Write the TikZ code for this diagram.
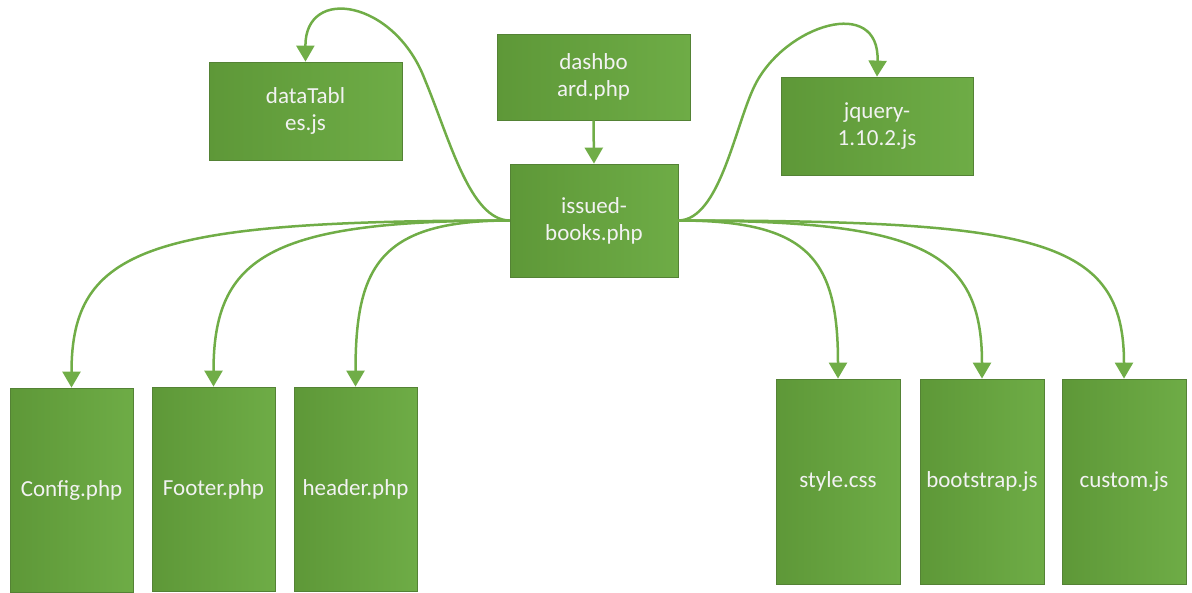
\documentclass[tikz,border=0pt]{standalone}
\usepackage{fontspec}
\setmainfont{Carlito}
\usetikzlibrary{arrows.meta}
\definecolor{gA}{HTML}{5E9838}
\definecolor{gB}{HTML}{6EAC46}
\definecolor{gEdge}{HTML}{548235}
\definecolor{gLine}{HTML}{70AD47}
\definecolor{txt}{HTML}{F2F2F2}
\tikzset{
  file/.style={draw=gEdge, line width=0.8pt, left color=gA, right color=gB,
    text=txt, align=center, inner sep=0pt, font=\fontsize{23}{27}\selectfont},
  link/.style={draw=gLine, line width=2.5pt, -{Triangle[width=18pt,length=16pt]}}
}
\begin{document}
\begin{tikzpicture}[x=1pt,y=-1pt]
\useasboundingbox (0,0) rectangle (1192,592);
\node[file, minimum width=193pt, minimum height=98pt] (dt) at (305.5,111) {dataTabl\\es.js};
\node[file, minimum width=193pt, minimum height=86pt] (db) at (593.5,77) {dashbo\\ard.php};
\node[file, minimum width=168pt, minimum height=113pt] (iss) at (594,220.5) {issued-\\books.php};
\node[file, minimum width=192pt, minimum height=98pt] (jq) at (877,126) {jquery-\\1.10.2.js};
\node[file, minimum width=123pt, minimum height=204pt] (cfg) at (71.5,490) {Config.php};
\node[file, minimum width=123pt, minimum height=204pt] (ftr) at (213.5,489) {Footer.php};
\node[file, minimum width=123pt, minimum height=204pt] (hdr) at (355.5,489) {header.php};
\node[file, minimum width=124pt, minimum height=205pt] (sty) at (838,481.5) {style.css};
\node[file, minimum width=124pt, minimum height=205pt] (bst) at (982,481.5) {bootstrap.js};
\node[file, minimum width=124pt, minimum height=205pt] (cst) at (1124,481.5) {custom.js};

\draw[link] (db.south) -- (iss.north);
\draw[link] (iss.west) .. controls +(-360,0) and +(0,-140) .. (cfg.north);
\draw[link] (iss.west) .. controls +(-240,0) and +(0,-130) .. (ftr.north);
\draw[link] (iss.west) .. controls +(-130,0) and +(0,-120) .. (hdr.north);
\draw[link] (iss.east) .. controls +(130,0) and +(0,-120) .. (sty.north);
\draw[link] (iss.east) .. controls +(240,0) and +(0,-130) .. (bst.north);
\draw[link] (iss.east) .. controls +(360,0) and +(0,-140) .. (cst.north);
\draw[link] (iss.west) .. controls (470,220) and (450,140) .. (425,80)
  .. controls (395,0) and (305,-15) .. (dt.north);
\draw[link] (iss.east) .. controls (720,220) and (735,125) .. (755,85)
  .. controls (785,25) and (880,-5) .. (jq.north);
\end{tikzpicture}
\end{document}
